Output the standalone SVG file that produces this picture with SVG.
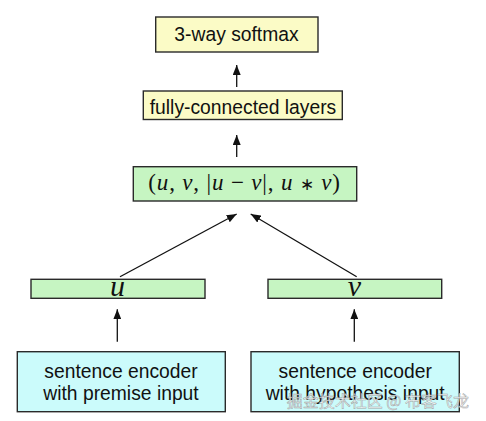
<svg xmlns="http://www.w3.org/2000/svg" width="486" height="421" viewBox="0 0 486 421">
<style>
.box{stroke:#2a2a2a;stroke-width:1.4}
.y{fill:#fbfbc6}
.g{fill:#c6f5c2}
.c{fill:#cbfbfb}
.t{font-family:"Liberation Sans",Arial,sans-serif;font-size:19.3px;fill:#111;text-anchor:middle}
.m{font-family:"Liberation Serif","Times New Roman",serif;fill:#111}
.i{font-style:italic}
.e{stroke:#111;stroke-width:1.3;fill:none}
</style>
<defs>
<marker id="ah" viewBox="0 0 10 8" refX="10" refY="4" markerWidth="10" markerHeight="8" markerUnits="userSpaceOnUse" orient="auto">
<path d="M0,0 L10,4 L0,8 Z" fill="#111"/>
</marker>
</defs>
<rect width="486" height="421" fill="#ffffff"/>
<g id="softmax">
<rect class="box y" x="155.7" y="17" width="162.3" height="35"/>
<text class="t" x="236.5" y="41">3-way softmax</text>
</g>
<g id="fc">
<rect class="box y" x="143.3" y="91" width="199" height="28.5"/>
<text class="t" x="243" y="114">fully-connected layers</text>
</g>
<g id="concat">
<rect class="box g" x="133.3" y="166.7" width="223.4" height="34.3"/>
<text class="m" x="148.3" y="189.5" font-size="23" textLength="191.7" lengthAdjust="spacing">(<tspan class="i">u</tspan>, <tspan class="i">v</tspan>, |<tspan class="i">u</tspan> − <tspan class="i">v</tspan>|, <tspan class="i">u</tspan> <tspan font-size="17">∗</tspan> <tspan class="i">v</tspan>)</text>
</g>
<g id="u">
<rect class="box g" x="31" y="279.3" width="174" height="19"/>
<text class="m i" x="117.5" y="296.3" font-size="30" text-anchor="middle">u</text>
</g>
<g id="v">
<rect class="box g" x="268" y="279.3" width="173.7" height="19"/>
<text class="m i" x="354.5" y="296.3" font-size="30" text-anchor="middle">v</text>
</g>
<g id="enc-premise">
<rect class="box c" x="17.3" y="351.7" width="208" height="60"/>
<text class="t" x="121" y="377.7">sentence encoder</text>
<text class="t" x="121" y="400">with premise input</text>
</g>
<g id="enc-hypothesis">
<rect class="box c" x="251" y="351.7" width="208.3" height="60"/>
<text class="t" x="355.2" y="377.7">sentence encoder</text>
<text class="t" x="355.2" y="400">with hypothesis input</text>
</g>
<g id="connectors">
<line class="e" x1="236.7" y1="87" x2="236.7" y2="65" marker-end="url(#ah)"/>
<line class="e" x1="236.7" y1="157" x2="236.7" y2="135" marker-end="url(#ah)"/>
<line class="e" x1="120" y1="276.7" x2="236.7" y2="214" marker-end="url(#ah)"/>
<line class="e" x1="356.7" y1="276.7" x2="250.7" y2="214" marker-end="url(#ah)"/>
<line class="e" x1="117.3" y1="341.7" x2="117.3" y2="309.3" marker-end="url(#ah)"/>
<line class="e" x1="354.3" y1="341.7" x2="354.3" y2="309.3" marker-end="url(#ah)"/>
</g>
<text x="286.7" y="406.5" font-family="'Noto Sans CJK SC','Liberation Sans',sans-serif" font-size="16" fill="#f6f6f6" fill-opacity="0.85" stroke="#8c8c8c" stroke-width="0.5" stroke-opacity="0.8">掘金技术社区 @ 布客飞龙</text>
</svg>
